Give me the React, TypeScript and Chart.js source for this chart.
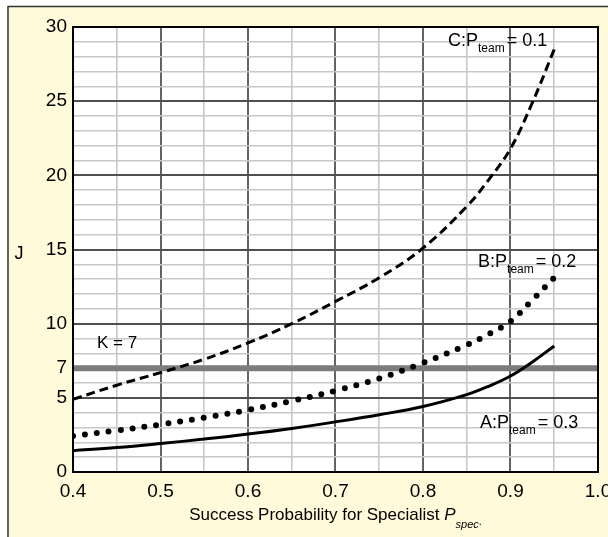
import React, { useEffect, useRef } from "react";
import { Chart, registerables } from "chart.js";

Chart.register(...registerables);

// Data
const pSpec = [0.4, 0.45, 0.5, 0.55, 0.6, 0.65, 0.7, 0.75, 0.8, 0.85, 0.875, 0.9, 0.925, 0.95];
const jA = [1.44, 1.65, 1.92, 2.22, 2.56, 2.94, 3.38, 3.86, 4.42, 5.22, 5.78, 6.47, 7.42, 8.5]; // P_team = 0.3
const jB = [2.43, 2.8, 3.2, 3.66, 4.18, 4.79, 5.48, 6.3, 7.36, 8.56, 9.3, 10.15, 11.6, 13.1]; // P_team = 0.2
const jC = [4.9, 5.85, 6.7, 7.6, 8.7, 10.0, 11.5, 13.1, 15.1, 17.9, 19.7, 21.8, 24.9, 28.5]; // P_team = 0.1
const K = 7;
const kRange = [0.4, 1.0];
const yTickLabels = [0, 5, 7, 10, 15, 20, 25, 30];
const xTickLabels = [0.4, 0.5, 0.6, 0.7, 0.8, 0.9, 1.0];

const FONT = "'Liberation Sans', Arial, Helvetica, sans-serif";

export default function App() {
  const ref = useRef<HTMLCanvasElement | null>(null);

  useEffect(() => {
    const canvas = ref.current;
    if (!canvas) return;

    const decor = {
      id: "decor",
      beforeDraw(chart: any) {
        const { ctx, chartArea } = chart;
        ctx.save();
        ctx.fillStyle = "#ffffff";
        ctx.fillRect(0, 0, chart.width, chart.height);
        ctx.fillStyle = "#fffad9";
        ctx.fillRect(8, 6, chart.width - 8, chart.height - 6);
        ctx.strokeStyle = "#333333";
        ctx.lineWidth = 1.5;
        ctx.beginPath();
        ctx.moveTo(8, chart.height);
        ctx.lineTo(8, 6.5);
        ctx.lineTo(chart.width, 6.5);
        ctx.stroke();
        ctx.fillStyle = "#ffffff";
        ctx.fillRect(chartArea.left, chartArea.top, chartArea.right - chartArea.left, chartArea.bottom - chartArea.top);
        ctx.restore();
      },
      afterDatasetsDraw(chart: any) {
        const { ctx, chartArea } = chart;
        ctx.save();
        ctx.strokeStyle = "#000000";
        ctx.lineWidth = 2;
        ctx.strokeRect(chartArea.left, chartArea.top, chartArea.right - chartArea.left, chartArea.bottom - chartArea.top);
        ctx.restore();
      },
      afterDraw(chart: any) {
        const { ctx, chartArea, scales } = chart;
        const xs = scales.x;
        const ys = scales.y;
        ctx.save();
        ctx.fillStyle = "#000000";
        ctx.textBaseline = "alphabetic";
        ctx.textAlign = "left";

        const subLabel = (letter: string, value: string, px: number, py: number) => {
          const x = xs.getPixelForValue(px);
          const y = ys.getPixelForValue(py);
          ctx.font = `18px ${FONT}`;
          const main = `${letter}:P`;
          ctx.fillText(main, x, y);
          let cx = x + ctx.measureText(main).width;
          ctx.font = `12px ${FONT}`;
          ctx.fillText("team", cx, y + 6);
          cx += ctx.measureText("team").width + 2;
          ctx.font = `18px ${FONT}`;
          ctx.fillText(`= ${value}`, cx, y);
        };
        subLabel("C", "0.1", 0.8286, 28.7);
        subLabel("B", "0.2", 0.8629, 13.82);
        subLabel("A", "0.3", 0.8651, 2.97);

        ctx.font = `17px ${FONT}`;
        ctx.fillText(`K = ${K}`, xs.getPixelForValue(0.4274), ys.getPixelForValue(8.36));

        // y-axis title
        ctx.font = `18px ${FONT}`;
        ctx.textAlign = "center";
        ctx.fillText("J", 19, ys.getPixelForValue(15) + 9);

        // x-axis title
        ctx.textAlign = "left";
        const t1 = "Success Probability for Specialist ";
        ctx.font = `17px ${FONT}`;
        const w1 = ctx.measureText(t1).width;
        ctx.font = `italic 17px ${FONT}`;
        const w2 = ctx.measureText("P").width;
        ctx.font = `italic 11px ${FONT}`;
        const w3 = ctx.measureText("spec").width;
        ctx.font = `11px ${FONT}`;
        const w4 = ctx.measureText(".").width;
        const total = w1 + w2 + w3 + w4;
        let tx = (chartArea.left + chartArea.right) / 2 - total / 2;
        const ty = 520;
        ctx.font = `17px ${FONT}`;
        ctx.fillText(t1, tx, ty);
        tx += w1;
        ctx.font = `italic 17px ${FONT}`;
        ctx.fillText("P", tx, ty);
        tx += w2;
        ctx.font = `italic 11px ${FONT}`;
        ctx.fillText("spec", tx, ty + 8);
        tx += w3;
        ctx.font = `11px ${FONT}`;
        ctx.fillText(".", tx, ty + 5);
        ctx.restore();
      },
    };

    const isMajorX = (v: number) => Math.round(v * 100) % 10 === 0;

    const chart = new Chart(canvas, {
      type: "line",
      data: {
        datasets: [
          {
            label: "K",
            data: kRange.map((x) => ({ x, y: K })),
            borderColor: "#7c7c7c",
            borderWidth: 6,
            pointRadius: 0,
            order: 4,
          },
          {
            label: "A",
            data: pSpec.map((x, i) => ({ x, y: jA[i] })),
            borderColor: "#000000",
            borderWidth: 3,
            pointRadius: 0,
            tension: 0.4,
            order: 1,
          },
          {
            label: "B",
            data: pSpec.map((x, i) => ({ x, y: jB[i] })),
            borderColor: "#000000",
            borderWidth: 6,
            borderDash: [0, 12],
            borderCapStyle: "round",
            pointRadius: 0,
            tension: 0.4,
            order: 2,
          },
          {
            label: "C",
            data: pSpec.map((x, i) => ({ x, y: jC[i] })),
            borderColor: "#000000",
            borderWidth: 3,
            borderDash: [9, 5],
            pointRadius: 0,
            tension: 0.4,
            order: 3,
          },
        ],
      },
      options: {
        responsive: false,
        animation: false,
        devicePixelRatio: 1,
        layout: { padding: { left: 0, top: 27, right: 10, bottom: 0 } },
        plugins: { legend: { display: false }, tooltip: { enabled: false } },
        scales: {
          x: {
            type: "linear",
            min: 0.4,
            max: 1.0,
            afterFit(scale: any) {
              scale.height = 65;
              scale.paddingLeft = 0;
              scale.paddingRight = 0;
            },
            ticks: {
              stepSize: 0.05,
              autoSkip: false,
              maxRotation: 0,
              padding: 8,
              color: "#000000",
              font: { family: FONT, size: 19 },
              callback: (v: any) => {
                const n = Number(v);
                const hit = xTickLabels.find((t) => Math.abs(t - n) < 1e-6);
                return hit !== undefined ? hit.toFixed(1) : "";
              },
            },
            grid: {
              drawTicks: false,
              color: (c: any) => (isMajorX(c.tick.value) ? "#646464" : "#c8c8c8"),
              lineWidth: (c: any) => (isMajorX(c.tick.value) ? 2 : 1.6),
            },
            border: { display: false },
          },
          y: {
            type: "linear",
            min: 0,
            max: 30,
            afterFit(scale: any) {
              scale.width = 73;
              scale.paddingTop = 0;
              scale.paddingBottom = 0;
            },
            ticks: {
              stepSize: 1,
              autoSkip: false,
              padding: 6,
              color: "#000000",
              font: { family: FONT, size: 19 },
              callback: (v: any) => (yTickLabels.includes(Number(v)) ? String(v) : ""),
            },
            grid: {
              drawTicks: false,
              color: (c: any) => (c.tick.value % 5 === 0 ? "#505050" : "#c8c8c8"),
              lineWidth: (c: any) => (c.tick.value % 5 === 0 ? 2 : 1.6),
            },
            border: { display: false },
          },
        },
      },
      plugins: [decor],
    } as any);

    return () => chart.destroy();
  }, []);

  return (
    <canvas
      ref={ref}
      width={608}
      height={537}
      style={{ position: "absolute", left: 0, top: 0, width: 608, height: 537 }}
    />
  );
}
